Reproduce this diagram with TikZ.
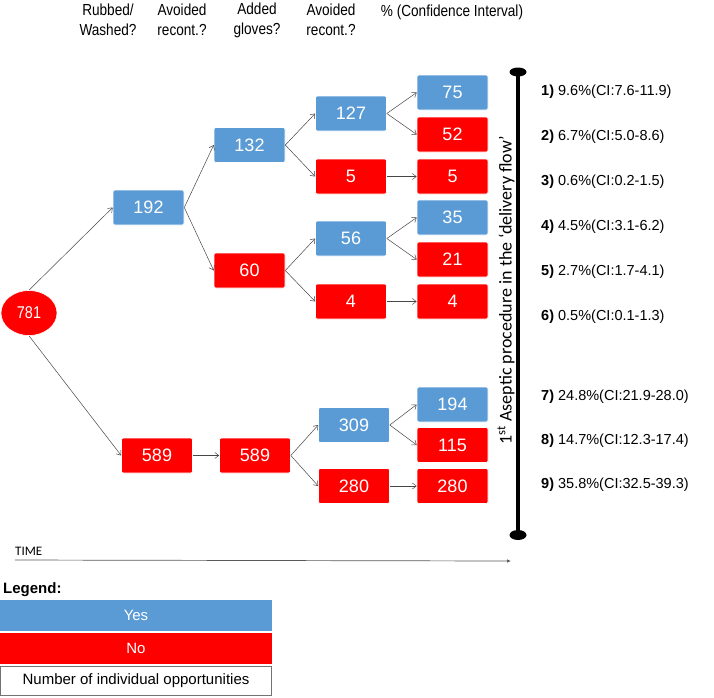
\documentclass[tikz,border=0pt]{standalone}
\usepackage{fontspec}
\setmainfont{Liberation Sans}
\newfontfamily\narrowfont{Liberation Sans}[FakeStretch=0.85]
\newfontfamily\carlito{Carlito}
\usepackage{tikz}
\usetikzlibrary{positioning, calc, shapes, arrows.meta}

\definecolor{yesblue}{RGB}{91,155,213}
\definecolor{nored}{RGB}{255,0,0}
\definecolor{edgegray}{RGB}{70,70,70}

\tikzset{
  numbox/.style={rectangle, rounded corners=2pt, minimum width=71pt, minimum height=35pt,
    inner sep=0pt, text=white, draw=white, line width=0.6pt,
    font=\fontsize{18}{20}\selectfont},
  yesbox/.style={numbox, fill=yesblue},
  nobox/.style={numbox, fill=nored},
  flow/.style={-{Straight Barb[length=4pt,width=6pt]}, edgegray, line width=0.5pt},
  header/.style={align=center, font=\narrowfont\fontsize{16}{20}\selectfont},
  pct/.style={anchor=west, inner sep=0pt, font=\fontsize{14.5}{16}\selectfont},
  legendbox/.style={rectangle, minimum width=272pt, minimum height=31pt, inner sep=0pt,
    font=\fontsize{15}{17}\selectfont}
}

\begin{document}
\begin{tikzpicture}[x=1pt, y=-1pt]
    \useasboundingbox (0,0) rectangle (714,697);
    % column headers
    \node[header] (hwash) at (108,20) {Rubbed/\\Washed?};
    \node[header] (hrecA) at (182,20) {Avoided\\recont.?};
    \node[header] (hglov) at (257,20) {Added\\gloves?};
    \node[header] (hrecB) at (331,20) {Avoided\\recont.?};
    \node[header] (hci) at (452,12) {\% (Confidence Interval)};
    % tree
    \node[ellipse, fill=nored, draw=white, line width=0.6pt, minimum width=56pt, minimum height=45pt,
        inner sep=0pt, text=white, font=\narrowfont\fontsize{17}{19}\selectfont] (n781) at (29,313) {781};
    \node[yesbox] (n192) at (148.5,207.5) {192};
    \node[yesbox] (n132) at (249.5,145) {132};
    \node[nobox] (n60) at (249.5,270.5) {60};
    \node[yesbox] (n127) at (351,113.5) {127};
    \node[nobox] (n5a) at (351,176.5) {5};
    \node[yesbox] (n56) at (351,238.5) {56};
    \node[nobox] (n4a) at (351,301.5) {4};
    \node[yesbox] (n75) at (452.5,92.5) {75};
    \node[nobox] (n52) at (452.5,134.5) {52};
    \node[nobox] (n5b) at (452.5,176.5) {5};
    \node[yesbox] (n35) at (452.5,217.5) {35};
    \node[nobox] (n21) at (452.5,259.5) {21};
    \node[nobox] (n4b) at (452.5,301.5) {4};
    \node[nobox] (n589a) at (157,455.5) {589};
    \node[nobox] (n589b) at (255,455.5) {589};
    \node[yesbox] (n309) at (354,425) {309};
    \node[nobox] (n280a) at (354,486) {280};
    \node[yesbox] (n194) at (452.5,404.5) {194};
    \node[nobox] (n115) at (452.5,445) {115};
    \node[nobox] (n280b) at (452.5,486) {280};
    \draw[flow] (n781.north) -- (n192.west);
    \draw[flow] (n781.south) -- (n589a.west);
    \draw[flow] (n192.east) -- (n132.west);
    \draw[flow] (n192.east) -- (n60.west);
    \draw[flow] (n132.east) -- (n127.west);
    \draw[flow] (n132.east) -- (n5a.west);
    \draw[flow] (n60.east) -- (n56.west);
    \draw[flow] (n60.east) -- (n4a.west);
    \draw[flow] (n127.east) -- (n75.west);
    \draw[flow] (n127.east) -- (n52.west);
    \draw[flow] (n5a.east) -- (n5b.west);
    \draw[flow] (n56.east) -- (n35.west);
    \draw[flow] (n56.east) -- (n21.west);
    \draw[flow] (n4a.east) -- (n4b.west);
    \draw[flow] (n589a.east) -- (n589b.west);
    \draw[flow] (n589b.east) -- (n309.west);
    \draw[flow] (n589b.east) -- (n280a.west);
    \draw[flow] (n309.east) -- (n194.west);
    \draw[flow] (n309.east) -- (n115.west);
    \draw[flow] (n280a.east) -- (n280b.west);
    % first aseptic procedure line
    \coordinate (atop) at (518,72);
    \coordinate (abot) at (518,535);
    \draw[line width=3.5pt] (atop) -- (abot);
    \fill (atop) ellipse (8.5 and 4.5);
    \fill (abot) ellipse (8.5 and 5);
    \node[rotate=90, font=\carlito\fontsize{18}{20}\selectfont] (asep) at (506,290)
        {1\textsuperscript{st} Aseptic procedure in the ‘delivery flow’};
    % percentages
    \node[pct] (p1) at (541,92) {\textbf{1)} 9.6\%(CI:7.6-11.9)};
    \node[pct] (p2) at (541,137) {\textbf{2)} 6.7\%(CI:5.0-8.6)};
    \node[pct] (p3) at (541,182) {\textbf{3)} 0.6\%(CI:0.2-1.5)};
    \node[pct] (p4) at (541,227) {\textbf{4)} 4.5\%(CI:3.1-6.2)};
    \node[pct] (p5) at (541,272) {\textbf{5)} 2.7\%(CI:1.7-4.1)};
    \node[pct] (p6) at (541,317) {\textbf{6)} 0.5\%(CI:0.1-1.3)};
    \node[pct] (p7) at (541,397) {\textbf{7)} 24.8\%(CI:21.9-28.0)};
    \node[pct] (p8) at (541,441) {\textbf{8)} 14.7\%(CI:12.3-17.4)};
    \node[pct] (p9) at (541,485) {\textbf{9)} 35.8\%(CI:32.5-39.3)};
    % time axis
    \node[anchor=south west, inner sep=0pt, font=\carlito\fontsize{13}{15}\selectfont] (time) at (15,556) {TIME};
    \coordinate (t0) at (15,560);
    \coordinate (t1) at (511,561);
    \draw[-{Latex[length=4pt,width=3.5pt]}, black!65, line width=0.7pt] (t0) -- (t1);
    % legend
    \node[anchor=west, inner sep=0pt, font=\bfseries\fontsize{15}{17}\selectfont] (leg) at (3,590) {Legend:};
    \node[legendbox, fill=yesblue, text=white] (lyes) at (136,615.5) {Yes};
    \node[legendbox, fill=nored, text=white] (lno) at (136,648.5) {No};
    \node[legendbox, draw=black!55, line width=0.8pt, minimum width=271pt, minimum height=29pt] (lnum) at (136,680.5)
        {Number of individual opportunities};
\end{tikzpicture}
\end{document}
